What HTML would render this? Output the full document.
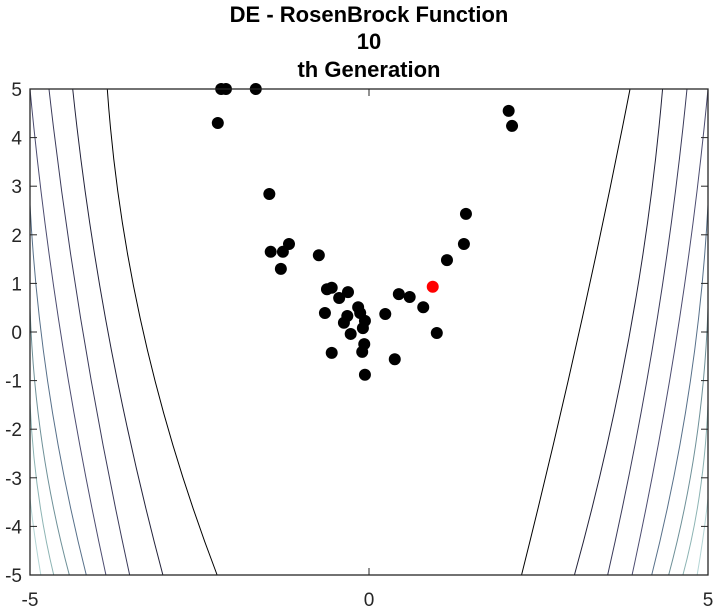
<!DOCTYPE html>
<html><head><meta charset="utf-8"><style>
body{margin:0;background:#fff;}
svg{display:block;font-family:"Liberation Sans",Arial,sans-serif;}
</style></head><body>
<svg id="chart" width="716" height="610" viewBox="0 0 716 610" xmlns="http://www.w3.org/2000/svg">
<rect x="0" y="0" width="716" height="610" fill="#fff"/>
<g font-weight="bold" font-size="22" text-anchor="middle" fill="#000">
<text x="369" y="22">DE - RosenBrock Function</text>
<text x="369" y="49">10</text>
<text x="369" y="77">th Generation</text>
</g>
<g id="contours"></g>
<g id="points"></g>
<g id="axes"></g>
</svg>
<script>
const popX = [-2.18,-2.11,-1.67,-2.23,2.06,2.11,-1.47,1.43,1.40,1.15,-1.45,-1.27,-1.18,-1.30,-0.74,-0.62,-0.55,-0.31,-0.44,-0.65,-0.16,-0.13,-0.32,-0.37,-0.06,-0.09,-0.27,0.24,0.44,0.60,0.80,1.00,-0.07,-0.10,-0.55,0.38,-0.06];
const popY = [5,5,5,4.30,4.55,4.24,2.84,2.43,1.81,1.48,1.65,1.65,1.81,1.30,1.58,0.88,0.91,0.82,0.70,0.39,0.51,0.39,0.33,0.19,0.23,0.08,-0.04,0.37,0.78,0.72,0.51,-0.02,-0.25,-0.41,-0.43,-0.56,-0.88];
const bestX = [0.94];
const bestY = [0.93];
const xTicks = [-5,0,5];
const yTicks = [-5,-4,-3,-2,-1,0,1,2,3,4,5];
const contourLevels = [
 [[-3.86,5],[-3.33,0],[-2.24,-5]],
 [[-4.37,5],[-3.85,0],[-3.04,-5]],
 [[-4.72,5],[-4.22,0],[-3.53,-5]],
 [[-5,5],[-4.55,0],[-3.88,-5]],
 [[-5,2.62],[-4.72,-1.2],[-4.17,-5]],
 [[-5,0.5],[-4.82,-2.3],[-4.42,-5]],
 [[-5,-1.47],[-4.88,-3.3],[-4.65,-5]],
 [[-5,-3.42],[-4.93,-4.2],[-4.84,-5]],
 [[3.85,5],[3.10,0],[2.25,-5]],
 [[4.33,5],[3.85,0],[3.03,-5]],
 [[4.69,5],[4.22,0],[3.52,-5]],
 [[5,5],[4.55,0],[3.88,-5]],
 [[5,2.62],[4.72,-1.2],[4.17,-5]],
 [[5,0.5],[4.82,-2.3],[4.42,-5]],
 [[5,-1.47],[4.88,-3.3],[4.63,-5]],
 [[5,-3.42],[4.93,-4.2],[4.84,-5]]
];
const contourColors = ['#000','#22223a','#3a3a5a','#4c4c70','#57708a','#6e9098','#8db4b4','#b5d6d6'];
const X0=30,X1=708,Y0=89,Y1=575;
const sx=v=>X0+(v+5)/10*(X1-X0);
const sy=v=>Y1-(v+5)/10*(Y1-Y0);
const NS='http://www.w3.org/2000/svg';
function mk(tag,attrs,parent){const e=document.createElementNS(NS,tag);for(const k in attrs)e.setAttribute(k,attrs[k]);parent.appendChild(e);return e;}
const cg=document.getElementById('contours');
contourLevels.forEach((pts,i)=>{
 const [a,b,c]=pts.map(p=>[sx(p[0]),sy(p[1])]);
 const cx=2*b[0]-(a[0]+c[0])/2, cy=2*b[1]-(a[1]+c[1])/2;
 const p=mk('path',{d:`M${a[0]},${a[1]} Q${cx},${cy} ${c[0]},${c[1]}`,fill:'none',stroke:contourColors[i%8],'stroke-width':1},cg);
 
 
});
const pg=document.getElementById('points');
popX.forEach((x,i)=>{
 const c=mk('circle',{cx:sx(x),cy:sy(popY[i]),r:6,fill:'#000'},pg);
 
 
});
bestX.forEach((x,i)=>{
 const c=mk('circle',{cx:sx(x),cy:sy(bestY[i]),r:6,fill:'#f00'},pg);
 
 
});
const ag=document.getElementById('axes');
const box=mk('rect',{x:X0,y:Y0,width:X1-X0,height:Y1-Y0,fill:'none',stroke:'#262626','stroke-width':1.3},ag);


xTicks.forEach(v=>{
 const x=sx(v);
 mk('line',{x1:x,y1:Y1,x2:x,y2:Y1-7,stroke:'#262626'},ag);
 mk('line',{x1:x,y1:Y0,x2:x,y2:Y0+7,stroke:'#262626'},ag);
 const t=mk('text',{x:x,y:606,'font-size':19,'text-anchor':'middle',fill:'#262626'},ag);
 t.textContent=String(v);
 
 
});
yTicks.forEach(v=>{
 const y=sy(v);
 mk('line',{x1:X0,y1:y,x2:X0+7,y2:y,stroke:'#262626'},ag);
 mk('line',{x1:X1,y1:y,x2:X1-7,y2:y,stroke:'#262626'},ag);
 const t=mk('text',{x:22,y:y+7,'font-size':19,'text-anchor':'end',fill:'#262626'},ag);
 t.textContent=String(v);
 
 
});
</script>
</body></html>
